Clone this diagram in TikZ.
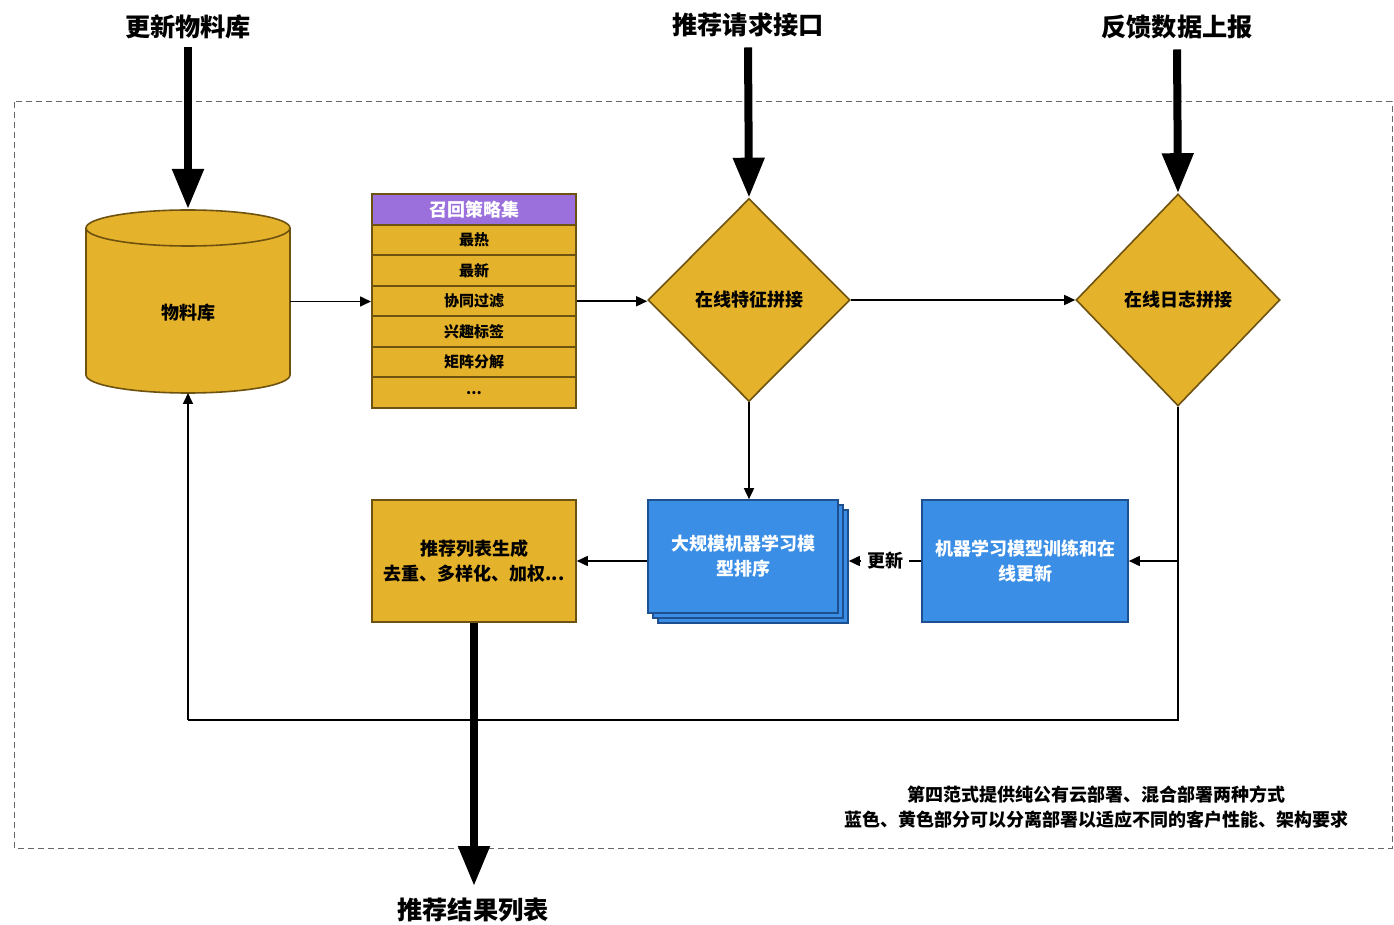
\documentclass[tikz,border=0pt]{standalone}
\usepackage{fontspec}
\setmainfont{Noto Sans CJK SC}
\usetikzlibrary{arrows.meta,shapes.geometric,calc}
\definecolor{ylw}{HTML}{E5B22B}
\definecolor{ybrd}{HTML}{6E5210}
\definecolor{blu}{HTML}{3A8EE6}
\definecolor{bbrd}{HTML}{1E4F8E}
\definecolor{pur}{HTML}{9B70DD}
\begin{document}
\begin{tikzpicture}[x=0.5pt,y=-0.5pt,
  toplbl/.style={font=\fontsize{12.6pt}{14pt}\selectfont\bfseries, inner sep=0},
  thickarr/.style={line width=4pt, -{Triangle[width=15pt,length=20pt]}},
  thinarr/.style={line width=0.8pt, -{Triangle[width=5pt,length=5.5pt]}},
  thinline/.style={line width=0.8pt},
  ybox/.style={draw=ybrd, fill=ylw, line width=0.8pt, inner sep=0, align=center,
    font=\fontsize{9pt}{12.5pt}\selectfont\bfseries},
  row/.style={draw=ybrd, fill=ylw, line width=1pt, inner sep=0, minimum width=102pt,
    minimum height=15.25pt, font=\fontsize{7.5pt}{8pt}\selectfont\bfseries},
  bbox/.style={draw=bbrd, fill=blu, line width=0.8pt, inner sep=0, align=center, text=white,
    font=\fontsize{9pt}{12.5pt}\selectfont\bfseries},
  dia/.style={diamond, draw=ybrd, fill=ylw, line width=0.8pt, inner sep=0,
    font=\fontsize{9pt}{10pt}\selectfont\bfseries},
  cyl/.style={draw=ybrd, fill=ylw, line width=0.8pt}
]
\useasboundingbox (0,0) rectangle (1394,925);
\fill[white] (0,0) rectangle (1394,925);

% dashed frame
\draw[gray!80!black, line width=0.5pt, dash pattern=on 3pt off 2pt] (14,102) rectangle (1392,848);

% top labels
\node[toplbl] (l1) at (188,27) {更新物料库};
\node[toplbl] (l2) at (748,25) {推荐请求接口};
\node[toplbl] (l3) at (1177,27) {反馈数据上报};

% cylinder
\draw[cyl] (86,228) -- (86,375) arc[start angle=180,end angle=360,x radius=51pt,y radius=9pt]
  -- (290,228) arc[start angle=0,end angle=180,x radius=51pt,y radius=9pt] -- cycle;
\draw[ybrd, line width=0.8pt] (86,228) arc[start angle=180,end angle=360,x radius=51pt,y radius=9pt];
\node[inner sep=0, minimum width=102pt, minimum height=91.5pt,
  font=\fontsize{9pt}{10pt}\selectfont\bfseries, text height=18pt, text depth=0pt] (db) at (188,301.5) {物料库};

% recall table
\node[row, fill=pur, minimum height=15.5pt, text=white, font=\fontsize{9pt}{10pt}\selectfont\bfseries] (h) at (474,209.5) {召回策略集};
\node[row] (r1) at (474,240.25) {最热};
\node[row] (r2) at (474,270.75) {最新};
\node[row] (r3) at (474,301.25) {协同过滤};
\node[row] (r4) at (474,331.75) {兴趣标签};
\node[row] (r5) at (474,362.25) {矩阵分解};
\node[row] (r6) at (474,392.75) {...};

% diamonds
\node[dia, minimum width=101pt, minimum height=101.5pt] (d1) at (749,300) {在线特征拼接};
\node[dia, minimum width=102pt, minimum height=106pt] (d2) at (1178,300) {在线日志拼接};

% blue stack
\node[bbox, minimum width=95pt, minimum height=56.5pt] (st3) at (753,566.5) {};
\node[bbox, minimum width=95pt, minimum height=56.5pt] (st2) at (748,561.5) {};
\node[bbox, minimum width=95pt, minimum height=56.5pt] (st) at (743,556.5) {大规模机器学习模\\型排序};

% training box
\node[bbox, minimum width=103pt, minimum height=61pt] (tr) at (1025,561) {机器学习模型训练和在\\线更新};

% list generation box
\node[ybox, minimum width=102pt, minimum height=61pt] (gen) at (474,561) {推荐列表生成\\去重、多样化、加权...};

% bottom label
\node[toplbl] (out) at (473,910) {推荐结果列表};

% note
\node[align=center, inner sep=0, font=\fontsize{9pt}{12.5pt}\selectfont\bfseries] (note) at (1096,807)
  {第四范式提供纯公有云部署、混合部署两种方式\\蓝色、黄色部分可以分离部署以适应不同的客户性能、架构要求};

% thick arrows
\draw[thickarr] (l1.south) ++(0,8) -- (188,209);
\draw[thickarr] (l2.south) ++(0,10) -- (d1.north);
\draw[thickarr] (l3.south) ++(0,10) -- (d2.north);
\draw[thickarr] (gen.south) -- (474,886);

% thin connectors
\draw[thinarr] (db.east) -- (db.east -| h.west);
\draw[thinarr] (r3.east) -- (r3.east -| d1.west);
\draw[thinarr] (d1.east) -- (d2.west);
\draw[thinarr] (d1.south) -- (d1.south |- st.north);
\coordinate (br) at (d2.south |- tr.east);
\coordinate (c1) at (1178,720);
\coordinate (c2) at (188,720);
\draw[thinline] (d2.south) -- (c1) -- (c2);
\draw[thinarr] (c2) -- (188,393);
\draw[thinarr] (br) -- (tr.east);
\draw[thinarr] (tr.west) -- node[fill=white, inner sep=3pt, font=\fontsize{9pt}{10pt}\selectfont\bfseries] (upd) {更新} (st3.east |- tr.west);
\draw[thinarr] (st.west |- gen.east) -- (gen.east);
\end{tikzpicture}
\end{document}
